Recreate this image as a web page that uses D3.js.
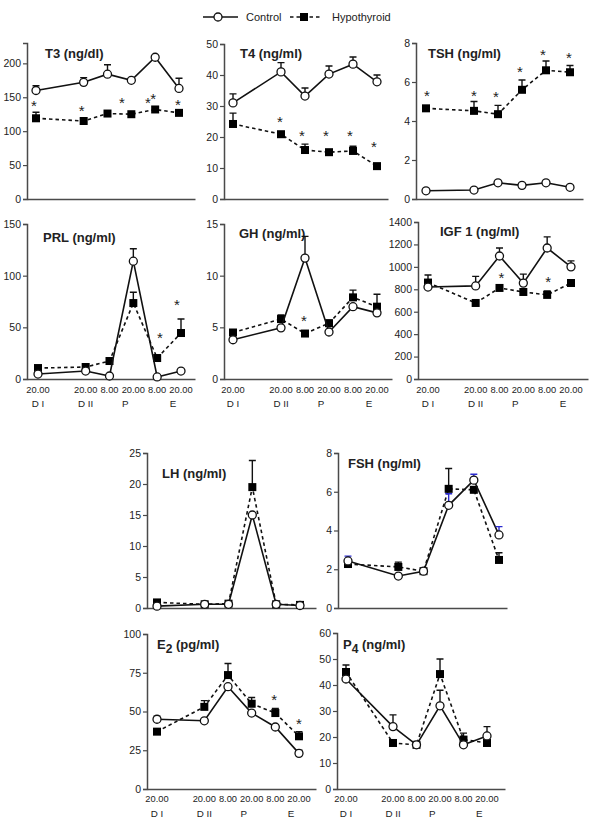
<!DOCTYPE html>
<html><head><meta charset="utf-8">
<script src="https://cdn.jsdelivr.net/npm/d3@7/dist/d3.min.js"></script>
<style>
html,body{margin:0;padding:0;background:#fff;}
svg{display:block;font-family:"Liberation Sans",Arial,sans-serif;}
</style></head>
<body><svg id="chart" width="600" height="834"></svg>
<script>
// ---------- shared x data ----------
const hours = [0, 24, 36, 48, 60, 72];
const timeLabels = ["20.00", "20.00", "8.00", "20.00", "8.00", "20.00"];
const phaseLabels = ["D I", "D II", "P", "E"];
const phaseHours = [0, 24, 44, 68];

// ---------- series (null = no visible error bar) ----------
const t3Control = [160, 172, 184, 175, 209, 163];
const t3ControlErr = [167, 179, 198, null, null, 178];
const t3Hypo = [119, 115, 126, 125, 132, 127];
const t3HypoErr = [128, null, null, null, null, null];
const t3Stars = [[-1, 142], [23, 135], [43.3, 147], [56.4, 146], [59, 153], [71.5, 144]];

const t4Control = [31, 41, 33.2, 40.3, 43.5, 37.8];
const t4ControlErr = [33.9, 44, 35.8, 42.9, 45.8, 40];
const t4Hypo = [24.2, 20.9, 15.8, 15.1, 15.5, 10.6];
const t4HypoErr = [27.7, 21.6, 17.7, null, 17, null];
const t4Stars = [[23.5, 26], [34.5, 21.6], [46.5, 21.6], [58.5, 21.6], [70.5, 18]];

const tshControl = [0.42, 0.46, 0.83, 0.7, 0.83, 0.6];
const tshControlErr = [null, null, null, null, null, null];
const tshHypo = [4.65, 4.52, 4.35, 5.6, 6.6, 6.5];
const tshHypoErr = [4.75, 5.0, 4.8, 6.1, 7.08, 6.85];
const tshStars = [[0.5, 5.45], [24, 5.45], [35, 5.4], [47, 6.7], [58.5, 7.55], [71.5, 7.4]];

const prlControl = [4.8, 7.7, 2.9, 114, 2, 7.7];
const prlControlErr = [null, null, null, 126, null, null];
const prlHypo = [10.6, 11.6, 17.4, 73.5, 20.3, 44.5];
const prlHypoErr = [null, null, null, 84, null, 58];
const prlStars = [[61.4, 43.5], [70, 75]];

const ghControl = [3.8, 4.95, 11.7, 4.55, 7.0, 6.4];
const ghControlErr = [null, null, 13.8, null, null, null];
const ghHypo = [4.5, 5.8, 4.4, 5.4, 7.9, 7.0];
const ghHypoErr = [null, 6.2, null, 5.7, 8.6, 8.2];
const ghStars = [[35.5, 6.0]];

const igfControl = [820, 830, 1097, 855, 1168, 1000];
const igfControlErr = [null, 915, 1168, 935, 1267, 1053];
const igfHypo = [860, 678, 812, 776, 750, 856];
const igfHypoErr = [928, null, 840, null, 785, null];
const igfStars = [[37, 928], [60.5, 900]];

const lhControl = [0.3, 0.6, 0.6, 15, 0.6, 0.4];
const lhControlErr = [null, null, null, null, null, null];
const lhHypo = [0.9, 0.6, 0.7, 19.5, 0.6, 0.5];
const lhHypoErr = [null, null, null, 23.8, null, null];
const lhStars = [];

const fshControl = [2.43, 1.65, 1.9, 5.3, 6.6, 3.77];
const fshControlErr = [2.68, null, null, 5.9, 6.9, 4.2];
const fshHypo = [2.27, 2.12, 1.9, 6.15, 6.1, 2.48];
const fshHypoErr = [null, 2.37, null, 7.2, null, 2.85];
const fshStars = [];

const e2Control = [45, 44, 66, 49, 40, 23];
const e2ControlErr = [47, null, null, null, null, 25];
const e2Hypo = [37, 53, 73.5, 55, 49, 34];
const e2HypoErr = [null, 57, 81, 59, 52, 37];
const e2Stars = [[59.4, 60], [72, 44.5]];

const p4Control = [42.3, 24, 17, 32, 17, 20.4];
const p4ControlErr = [null, 28.5, null, 38, null, 24];
const p4Hypo = [45, 17.7, 17, 44.2, 19, 17.7];
const p4HypoErr = [47.7, null, null, 50, 21.5, null];
const p4Stars = [];

// ---------- layout ----------
const panels = [
  {title:"T3 (ng/dl)", c:t3Control, ce:t3ControlErr, h:t3Hypo, he:t3HypoErr, s:t3Stars,
   ymax:230, ticks:[0,50,100,150,200], ax:[27,195], px:[36,179], yr:[199,43], tt:[45,58], xl:false},
  {title:"T4 (ng/ml)", c:t4Control, ce:t4ControlErr, h:t4Hypo, he:t4HypoErr, s:t4Stars,
   ymax:50, ticks:[0,10,20,30,40,50], ax:[224,388], px:[233,377], yr:[199,44], tt:[240,58], xl:false},
  {title:"TSH (ng/ml)", c:tshControl, ce:tshControlErr, h:tshHypo, he:tshHypoErr, s:tshStars,
   ymax:8, ticks:[0,2,4,6,8], ax:[416,583], px:[426,570], yr:[199,43], tt:[428,58], xl:false},
  {title:"PRL (ng/ml)", c:prlControl, ce:prlControlErr, h:prlHypo, he:prlHypoErr, s:prlStars,
   ymax:150, ticks:[0,50,100,150], ax:[27,195], px:[38,181], yr:[379,224], tt:[43,242], xl:true, xly:[393,407]},
  {title:"GH (ng/ml)", c:ghControl, ce:ghControlErr, h:ghHypo, he:ghHypoErr, s:ghStars,
   ymax:15, ticks:[0,5,10,15], ax:[224,392], px:[233,377], yr:[379,224], tt:[239,238], xl:true, xly:[393,407]},
  {title:"IGF 1 (ng/ml)", c:igfControl, ce:igfControlErr, h:igfHypo, he:igfHypoErr, s:igfStars,
   ymax:1400, ticks:[0,200,400,600,800,1000,1200,1400], ax:[418,588], px:[428,571], yr:[379,222], tt:[440,236], xl:true, xly:[393,407]},
  {title:"LH (ng/ml)", c:lhControl, ce:lhControlErr, h:lhHypo, he:lhHypoErr, s:lhStars,
   ymax:25, ticks:[0,5,10,15,20,25], ax:[147,316], px:[157,300], yr:[608,453], tt:[162,478], xl:false},
  {title:"FSH (ng/ml)", c:fshControl, ce:fshControlErr, h:fshHypo, he:fshHypoErr, s:fshStars, blue:true,
   ymax:8, ticks:[0,2,4,6,8], ax:[338,507], px:[348,499], yr:[608,453], tt:[348,468], xl:false},
  {title:"E", sub:"2", rest:" (pg/ml)", c:e2Control, ce:e2ControlErr, h:e2Hypo, he:e2HypoErr, s:e2Stars,
   ymax:100, ticks:[0,25,50,75,100], ax:[147,316], px:[157,299], yr:[789,634], tt:[157,649], xl:true, xly:[802,817]},
  {title:"P", sub:"4", rest:" (ng/ml)", c:p4Control, ce:p4ControlErr, h:p4Hypo, he:p4HypoErr, s:p4Stars,
   ymax:60, ticks:[0,10,20,30,40,50,60], ax:[337,505], px:[346,487], yr:[789,633], tt:[343,649], xl:true, xly:[802,817]}
];

const svg = d3.select("#chart");
const AX = "#4a4a4a";

panels.forEach(p => {
  const g = svg.append("g");
  const x = d3.scaleLinear().domain([0, 72]).range(p.px);
  const y = d3.scaleLinear().domain([0, p.ymax]).range(p.yr);

  // y axis
  const yAxis = d3.axisLeft(y).tickValues(p.ticks).tickSize(4).tickPadding(2).tickFormat(d3.format("d"));
  const ya = g.append("g").attr("transform", `translate(${p.ax[0]},0)`).call(yAxis);
  ya.select(".domain").attr("stroke", AX).attr("stroke-width", 1.5);
  ya.selectAll(".tick line").attr("stroke", AX).attr("stroke-width", 1.2);
  ya.selectAll(".tick text").attr("fill", "#222").style("font-size", "10.5px");

  // x axis line
  const xs = d3.scaleLinear().domain([0, 1]).range(p.ax);
  const xAxis = d3.axisBottom(xs).tickValues([]).tickSizeOuter(0);
  const xa = g.append("g").attr("transform", `translate(0,${p.yr[0]})`).call(xAxis);
  xa.select(".domain").attr("stroke", AX).attr("stroke-width", 1.5);

  if (p.xl) {
    g.selectAll(".tl").data(hours).enter().append("text")
      .attr("x", d => x(d)).attr("y", p.xly[0]).attr("text-anchor", "middle")
      .attr("fill", "#222").style("font-size", "9.3px")
      .text((d, i) => timeLabels[i]);
    g.selectAll(".pl").data(phaseHours).enter().append("text")
      .attr("x", d => x(d)).attr("y", p.xly[1]).attr("text-anchor", "middle")
      .attr("fill", "#222").style("font-size", "9.8px")
      .text((d, i) => phaseLabels[i]);
  }

  // title
  const t = g.append("text").attr("x", p.tt[0]).attr("y", p.tt[1])
    .style("font-size", "13px").style("font-weight", "bold").attr("fill", "#222");
  t.append("tspan").text(p.title);
  if (p.sub) {
    t.append("tspan").attr("dy", 4).style("font-size", "12px").text(p.sub);
    t.append("tspan").attr("dy", -4).text(p.rest);
  }

  const line = d3.line().x((d, i) => x(hours[i])).y(d => y(d));

  function series(vals, errs, dashed, errColor) {
    g.append("path").datum(vals).attr("d", line).attr("fill", "none")
      .attr("stroke", "#111").attr("stroke-width", 1.6)
      .attr("stroke-dasharray", dashed ? "3.5,3" : null);
    const eb = vals.map((v, i) => ({i, v, e: errs[i]})).filter(d => d.e != null);
    g.selectAll(null).data(eb).enter().append("path")
      .attr("d", d => `M${x(hours[d.i])},${y(d.v)}V${y(d.e)}M${x(hours[d.i]) - 3.5},${y(d.e)}h7`)
      .attr("stroke", errColor || "#111").attr("stroke-width", 1.4).attr("fill", "none");
  }

  series(p.h, p.he, true, null);
  g.selectAll(null).data(p.h).enter().append("rect")
    .attr("x", (d, i) => x(hours[i]) - 4).attr("y", d => y(d) - 4)
    .attr("width", 8).attr("height", 8).attr("fill", "#000");

  series(p.c, p.ce, false, p.blue ? "#2a2ad0" : null);
  g.selectAll(null).data(p.c).enter().append("circle")
    .attr("cx", (d, i) => x(hours[i])).attr("cy", d => y(d)).attr("r", 4)
    .attr("fill", "#fff").attr("stroke", "#111").attr("stroke-width", 1.3);

  // significance asterisks
  g.selectAll(null).data(p.s).enter().append("text")
    .attr("x", d => x(d[0])).attr("y", d => y(d[1]) + 8.5)
    .attr("text-anchor", "middle").style("font-size", "15px").attr("fill", "#222")
    .text("*");
});

// ---------- legend ----------
const lg = svg.append("g");
lg.append("line").attr("x1", 203).attr("x2", 238).attr("y1", 17).attr("y2", 17)
  .attr("stroke", "#111").attr("stroke-width", 1.6);
lg.append("circle").attr("cx", 218).attr("cy", 17).attr("r", 4)
  .attr("fill", "#fff").attr("stroke", "#111").attr("stroke-width", 1.3);
lg.append("text").attr("x", 246).attr("y", 21).style("font-size", "11px").attr("fill", "#222").text("Control");
lg.append("line").attr("x1", 290).attr("x2", 322).attr("y1", 17).attr("y2", 17)
  .attr("stroke", "#111").attr("stroke-width", 1.6).attr("stroke-dasharray", "3.5,3");
lg.append("rect").attr("x", 300).attr("y", 13).attr("width", 8).attr("height", 8).attr("fill", "#000");
lg.append("text").attr("x", 332).attr("y", 21).style("font-size", "11px").attr("fill", "#222").text("Hypothyroid");
</script>
</body></html>
